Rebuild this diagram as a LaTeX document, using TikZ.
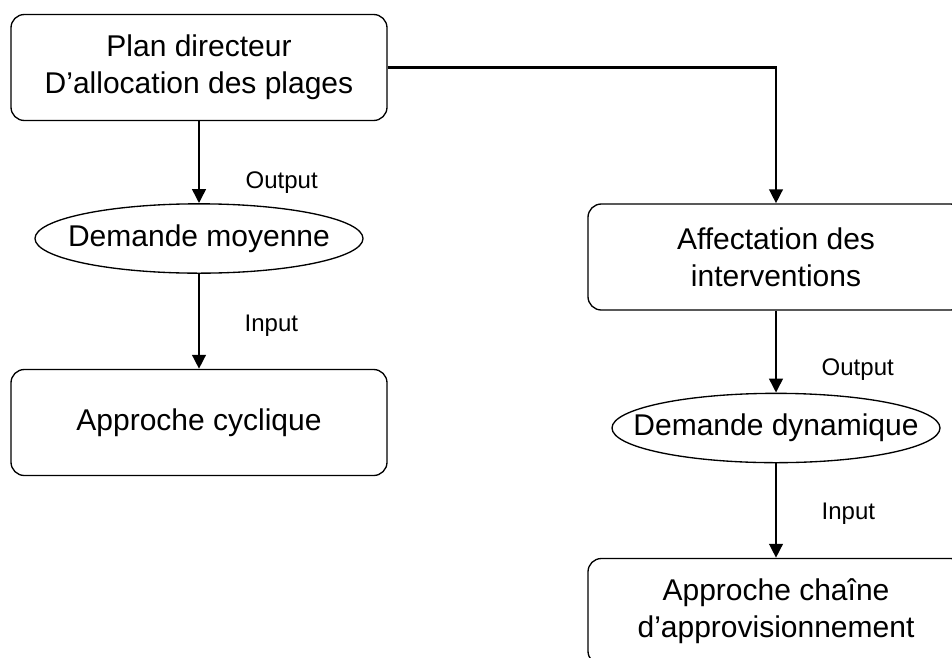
\documentclass[tikz,border=0pt]{standalone}
\usepackage{fontspec}
\setmainfont{Liberation Sans}
\usetikzlibrary{shapes.geometric,arrows.meta}

\begin{document}
\begin{tikzpicture}[x=0.75pt,y=-0.75pt,
	box/.style={draw, line width=1pt, rounded corners=10pt, minimum width=282pt, minimum height=79.5pt, align=center, font=\fontsize{22.5}{27.75}\selectfont},
	oval/.style={draw, ellipse, line width=1pt, inner sep=0pt, minimum width=246pt, minimum height=52pt, font=\fontsize{22.5}{27.75}\selectfont},
	flow/.style={line width=2.2pt, -{Triangle[length=10.5pt,width=10pt]}},
	lbl/.style={anchor=base west, font=\fontsize{18}{22}\selectfont}]

	\useasboundingbox (0,0) rectangle (952,657);
	\clip (0,0) rectangle (952,657);

	\def \a {199}
	\def \b {776}

	\node[box] (plan) at (\a,67.5) {Plan directeur\\D'allocation des plages};
	\node[oval] (moy) at (\a,238.5) {\makebox[0pt]{Demande moyenne}};
	\node[box] (cyc) at (\a,422.5) {Approche cyclique};

	\node[box] (aff) at (\b,257) {Affectation des\\interventions};
	\node[oval] (dyn) at (\b,428) {\makebox[0pt]{Demande dynamique}};
	\node[box] (chain) at (\b,611.5) {Approche chaîne\\d'approvisionnement};

	\draw[flow] (plan) -- (moy);
	\draw[flow] (moy) -- (cyc);
	\draw[flow] (plan.east) -| (aff.north);
	\draw[flow] (aff) -- (dyn);
	\draw[flow] (dyn) -- (chain);

	\node[lbl] (out1) at (\a+42,188) {Output};
	\node[lbl] (in1) at (\a+41,331.5) {Input};
	\node[lbl] (out2) at (\b+41,375) {Output};
	\node[lbl] (in2) at (\b+41,519) {Input};

\end{tikzpicture}
\end{document}
